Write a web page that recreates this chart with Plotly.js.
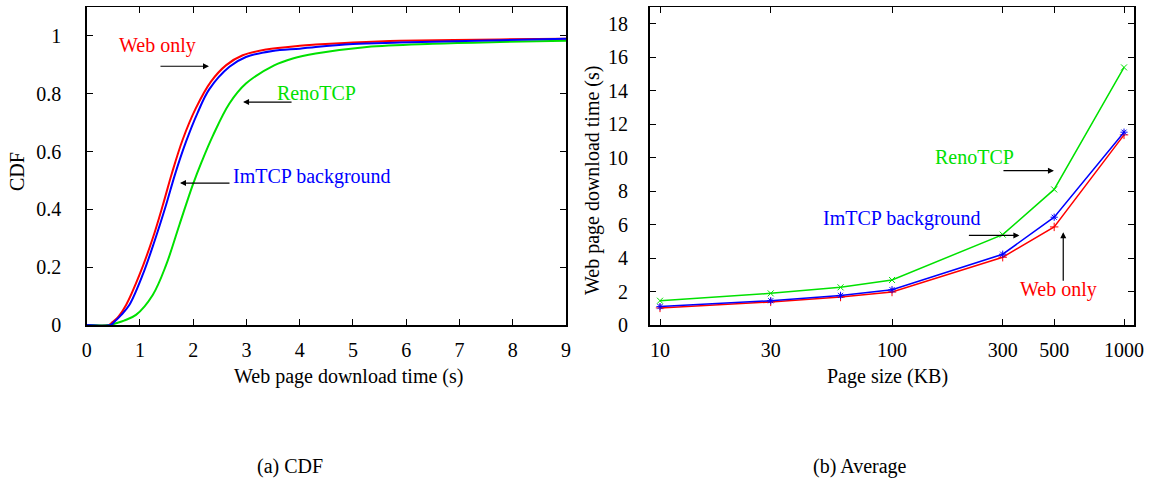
<!DOCTYPE html>
<html>
<head>
<meta charset="utf-8">
<script src="https://cdn.plot.ly/plotly-3.0.1.min.js"></script>
<style>html,body{margin:0;padding:0;background:#fff;}#chart{width:1153px;height:484px;}</style>
</head>
<body>
<div id="chart"></div>
<script>
// ---- (a) CDF data ----
const webOnlyX = [0, 0.42, 0.49, 0.6, 0.74, 0.99, 1.24, 1.43, 1.6, 1.8, 2.05, 2.33, 2.62, 2.93, 3.37, 4.0, 4.3, 5.0, 5.88, 7.76, 9];
const webOnlyY = [0, 0, 0.011, 0.03, 0.069, 0.173, 0.30, 0.415, 0.525, 0.64, 0.75, 0.841, 0.899, 0.933, 0.953, 0.966, 0.970, 0.977, 0.983, 0.988, 0.99];
const imtcpX = [0, 0.45, 0.52, 0.65, 0.8, 1.05, 1.27, 1.49, 1.66, 1.865, 2.08, 2.30, 2.68, 2.99, 3.49, 4.0, 4.3, 5.0, 5.88, 7.76, 9];
const imtcpY = [0, 0, 0.011, 0.035, 0.069, 0.173, 0.288, 0.415, 0.522, 0.634, 0.733, 0.815, 0.893, 0.927, 0.948, 0.956, 0.962, 0.972, 0.977, 0.985, 0.99];
const renoX = [0, 0.45, 0.55, 0.7, 0.925, 1.24, 1.49, 1.74, 1.99, 2.16, 2.37, 2.68, 2.99, 3.52, 3.87, 4.3, 5.26, 6.5, 7.76, 9];
const renoY = [0, 0, 0.006, 0.015, 0.035, 0.104, 0.207, 0.346, 0.484, 0.565, 0.655, 0.766, 0.835, 0.898, 0.922, 0.939, 0.962, 0.973, 0.979, 0.983];

// ---- (b) Average data ----
const pageSizes = [10, 30, 60, 100, 300, 500, 1000];
const avgWebOnly = [1.02, 1.38, 1.67, 1.97, 4.05, 5.86, 11.36];
const avgImtcp = [1.10, 1.45, 1.77, 2.11, 4.23, 6.44, 11.52];
const avgReno = [1.45, 1.89, 2.25, 2.69, 5.40, 8.10, 15.39];
const sizeTicks = [10, 30, 100, 300, 500, 1000];
const sizeTickText = ['10', '30', '100', '300', '500', '1000'];
const cdfTicks = [0, 0.2, 0.4, 0.6, 0.8, 1];
const timeTicks = [0, 2, 4, 6, 8, 10, 12, 14, 16, 18];

const W = 1153, H = 484;
const RED = 'rgb(255,0,0)', BLUE = 'rgb(0,0,255)', GREEN = 'rgb(0,225,0)';
const FONT = 'Liberation Serif, Times New Roman, serif';

const traces = [
  {x: webOnlyX, y: webOnlyY, mode: 'lines', line: {color: RED, width: 2, shape: 'spline', smoothing: 1}, xaxis: 'x', yaxis: 'y'},
  {x: renoX, y: renoY, mode: 'lines', line: {color: GREEN, width: 2, shape: 'spline', smoothing: 1}, xaxis: 'x', yaxis: 'y'},
  {x: imtcpX, y: imtcpY, mode: 'lines', line: {color: BLUE, width: 2, shape: 'spline', smoothing: 1}, xaxis: 'x', yaxis: 'y'},
  {x: pageSizes, y: avgWebOnly, mode: 'lines+markers', line: {color: RED, width: 1.5},
   marker: {symbol: 'cross-thin-open', size: 6, color: RED, line: {color: RED, width: 1}}, xaxis: 'x2', yaxis: 'y2'},
  {x: pageSizes, y: avgReno, mode: 'lines+markers', line: {color: GREEN, width: 1.5},
   marker: {symbol: 'x-thin-open', size: 6, color: GREEN, line: {color: GREEN, width: 1}}, xaxis: 'x2', yaxis: 'y2'},
  {x: pageSizes, y: avgImtcp, mode: 'lines+markers', line: {color: BLUE, width: 1.5},
   marker: {symbol: 'asterisk-open', size: 6, color: BLUE, line: {color: BLUE, width: 1}}, xaxis: 'x2', yaxis: 'y2'}
];

const axCommon = {
  showgrid: false, zeroline: false, showline: true, linecolor: '#000', linewidth: 1.5,
  mirror: 'ticks', ticks: 'inside', ticklen: 6, tickwidth: 1, tickcolor: '#000',
  tickfont: {family: FONT, size: 20, color: '#000'}, fixedrange: true
};

const yDom = [(H - 325) / H, (H - 7) / H];

function txt(text, x, y, xref, yref, color, angle) {
  return {text: text, x: x, y: y, xref: xref, yref: yref, showarrow: false,
          xanchor: 'center', yanchor: 'middle', textangle: angle || 0,
          font: {family: FONT, size: 20, color: color || '#000'}};
}
function arrow(x, y, xref, yref, ax, ay) {
  return {text: '', x: x, y: y, xref: xref, yref: yref, showarrow: true,
          ax: ax, ay: ay, axref: 'pixel', ayref: 'pixel',
          arrowhead: 2, arrowsize: 1, arrowwidth: 1.2, arrowcolor: '#000'};
}

const layout = {
  width: W, height: H, margin: {l: 0, r: 0, t: 0, b: 0},
  paper_bgcolor: '#fff', plot_bgcolor: '#fff', showlegend: false,
  xaxis: Object.assign({}, axCommon, {domain: [86.7 / W, 566 / W], range: [0, 9], dtick: 1, tick0: 0,
    ticklabelstandoff: 6, anchor: 'y'}),
  yaxis: Object.assign({}, axCommon, {domain: yDom, range: [0, 1.1], tickvals: cdfTicks,
    ticklabelstandoff: 20, anchor: 'x'}),
  xaxis2: Object.assign({}, axCommon, {domain: [649.5 / W, 1134 / W], type: 'log',
    range: [0.9547, 3.043], tickvals: sizeTicks, ticktext: sizeTickText,
    ticklabelstandoff: 6, anchor: 'y2'}),
  yaxis2: Object.assign({}, axCommon, {domain: yDom, range: [0, 19], tickvals: timeTicks,
    ticklabelstandoff: 16, anchor: 'x2'}),
  annotations: [
    // axis titles and captions
    txt('CDF', 17 / W, 1 - 172 / H, 'paper', 'paper', '#000', -90),
    txt('Web page download time (s)', 348 / W, 1 - 376 / H, 'paper', 'paper'),
    txt('Page size (KB)', 887 / W, 1 - 376 / H, 'paper', 'paper'),
    txt('Web page download time (s)', 592 / W, 1 - 181 / H, 'paper', 'paper', '#000', -90),
    txt('(a) CDF', 290 / W, 1 - 466 / H, 'paper', 'paper'),
    txt('(b) Average', 860 / W, 1 - 466 / H, 'paper', 'paper'),
    // (a) labels
    txt('Web only', 1.32, 0.968, 'x', 'y', RED),
    arrow(2.296, 0.895, 'x', 'y', -50, 0),
    txt('RenoTCP', 4.315, 0.804, 'x', 'y', GREEN),
    arrow(2.936, 0.771, 'x', 'y', 50, 0),
    txt('ImTCP background', 4.23, 0.515, 'x', 'y', BLUE),
    arrow(1.752, 0.491, 'x', 'y', 51, 0),
    // (b) labels
    txt('RenoTCP', 2.3565, 10.04, 'x2', 'y2', GREEN),
    arrow(2.698, 9.22, 'x2', 'y2', -52, 0),
    txt('ImTCP background', 2.043, 6.37, 'x2', 'y2', BLUE),
    arrow(2.549, 5.35, 'x2', 'y2', -52, 0),
    txt('Web only', 2.718, 2.11, 'x2', 'y2', RED),
    arrow(2.738, 5.54, 'x2', 'y2', 0, 50)
  ]
};

Plotly.newPlot('chart', traces, layout, {displayModeBar: false, staticPlot: true});
</script>
</body>
</html>
